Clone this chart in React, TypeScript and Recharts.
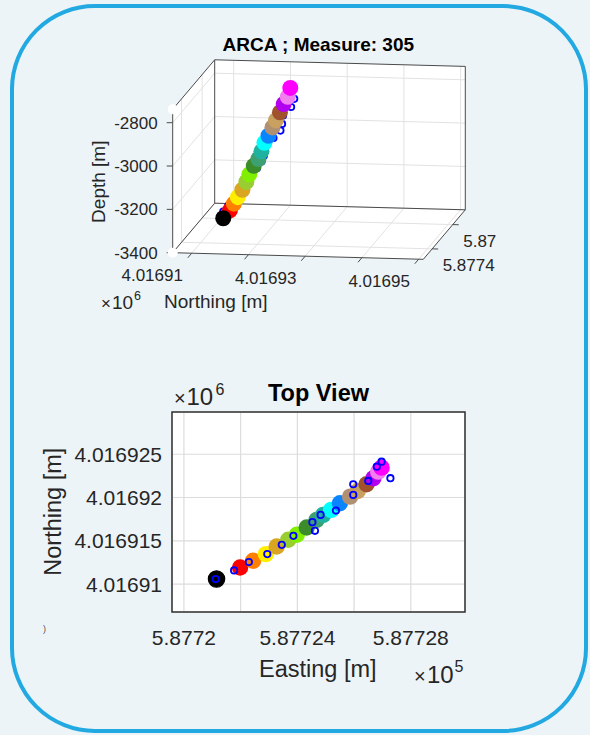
import React from 'react';
import {
  ComposedChart,
  ScatterChart,
  Scatter,
  Area,
  XAxis,
  YAxis,
  CartesianGrid,
  ReferenceLine,
  ReferenceArea,
} from 'recharts';

// Positions (UTM metres, depth in metres)
const pointColors = [
  '#000000', '#ff0000', '#ff8000', '#ffee00', '#daa520', '#9acd32',
  '#80f000', '#3c8c2c', '#3ca070', '#20b2a0', '#00ffff', '#0a84ff',
  '#b09070', '#c8a060', '#a0522d', '#b400f0', '#f080f0', '#ff00ff',
];
const eastings = [
  587721.15, 587721.98, 587722.44, 587722.89, 587723.27, 587723.68,
  587723.98, 587724.33, 587724.68, 587724.91, 587725.19, 587725.5,
  587725.86, 587726.13, 587726.44, 587726.68, 587726.85, 587726.97,
];
const northings = [
  4016910.58, 4016911.91, 4016912.69, 4016913.46, 4016914.34, 4016915.11,
  4016915.69, 4016916.53, 4016917.42, 4016917.99, 4016918.57, 4016919.34,
  4016920.1, 4016920.76, 4016921.53, 4016922.23, 4016922.99, 4016923.45,
];
const depths = [
  -3392, -3350, -3316, -3283, -3246, -3207, -3170, -3128, -3094,
  -3057, -3016, -2981, -2940, -2905, -2866, -2826, -2791, -2749,
];

// blue open circles
const blueEastings = [
  587721.12, 587721.77, 587722.29, 587722.94, 587723.45, 587723.86, 587724.53, 587724.62,
  587724.82, 587725.36, 587725.97, 587725.97, 587726.5, 587726.8, 587726.97, 587727.28,
];
const blueNorthings = [
  4016910.58, 4016911.57, 4016912.54, 4016913.46, 4016914.53, 4016915.57, 4016917.15, 4016916.15,
  4016917.99, 4016918.49, 4016920.3, 4016921.53, 4016921.91, 4016923.56, 4016924.14, 4016922.23,
];
const blueDepths = [
  -3361, -3331, -3301, -3268, -3242, -3203, -3137, -3172,
  -3104, -3074, -2988, -2953, -2919, -2838, -2799, -2876,
];

// top view ticks
const eastTicks = [587720, 587722, 587724, 587726, 587728];
const eastTickLabels = ['5.8772', '', '5.87724', '', '5.87728'];
const northTicks = [4016910, 4016915, 4016920, 4016925];
const northTickLabels = ['4.01691', '4.016915', '4.01692', '4.016925'];

// 3D view ticks
const depthTicks = [-3400, -3200, -3000, -2800];
const northTicks3d = [4016910, 4016920, 4016930, 4016940, 4016950];
const northTickLabels3d = ['4.01691', '', '4.01693', '', '4.01695'];
const eastTicks3d = [587740, 587720];
const eastTickLabels3d = ['5.8774', '5.87']; // cut off by the figure edge in the original

// axis limits
const TOP_E = [587719.58, 587729.91];
const TOP_N = [4016906.77, 4016929.88];
const BOX_N = [4016906.65, 4016950.82];
const BOX_E = [587748.6, 587707.8]; // front -> back
const BOX_D = [-3400, -2738.2];

// oblique view of the 3D box (pixels of the upper chart)
const VIEW = { ox: 172.7, oy: 252.7, ax: 250.6, ay: 6.6, bx: 42, by: -49.5, cz: -143.4 };

const INK = '#262626';
const FONT = '"Liberation Sans", Arial, Helvetica, sans-serif';

const fromNorm = (a: number, b: number, c: number) => ({
  x: VIEW.ox + a * VIEW.ax + b * VIEW.bx,
  y: VIEW.oy + a * VIEW.ay + b * VIEW.by + c * VIEW.cz,
});
const normN = (n: number) => (n - BOX_N[0]) / (BOX_N[1] - BOX_N[0]);
const normE = (e: number) => (BOX_E[0] - e) / (BOX_E[0] - BOX_E[1]);
const normD = (d: number) => (d - BOX_D[0]) / (BOX_D[1] - BOX_D[0]);
const project = (n: number, e: number, d: number) => fromNorm(normN(n), normE(e), normD(d));

type Pt = { x: number; y: number };
const seg = (p: number[], q: number[]): [Pt, Pt] => [
  fromNorm(p[0], p[1], p[2]),
  fromNorm(q[0], q[1], q[2]),
];

// box outline (MATLAB "back" box style)
const boxEdges = [
  [[0, 0, 0], [0, 0, 1]],
  [[0, 0, 1], [0, 1, 1]],
  [[0, 1, 1], [1, 1, 1]],
  [[1, 1, 1], [1, 1, 0]],
  [[0, 1, 1], [0, 1, 0]],
  [[0, 1, 0], [1, 1, 0]],
  [[0, 0, 0], [0, 1, 0]],
  [[0, 0, 0], [1, 0, 0]],
  [[1, 0, 0], [1, 1, 0]],
].map(([p, q]) => seg(p, q));

const gridSegs: [Pt, Pt][] = [];
northTicks3d.forEach((n) => {
  const a = normN(n);
  gridSegs.push(seg([a, 0, 0], [a, 1, 0]), seg([a, 1, 0], [a, 1, 1]));
});
eastTicks3d.forEach((e) => {
  const b = normE(e);
  gridSegs.push(seg([0, b, 0], [1, b, 0]), seg([0, b, 0], [0, b, 1]));
});
depthTicks.forEach((d) => {
  const c = normD(d);
  gridSegs.push(seg([0, 0, c], [0, 1, c]), seg([0, 1, c], [1, 1, c]));
});

const bLen = Math.hypot(VIEW.bx, VIEW.by);
const depthTickPts = depthTicks.map((d) => fromNorm(0, 0, normD(d)));
const northTickPts = northTicks3d.map((n) => fromNorm(normN(n), 0, 0));
const eastTickPts = eastTicks3d.map((e) => fromNorm(1, normE(e), 0));
const tickSegs: [Pt, Pt][] = [
  ...depthTickPts.map((p): [Pt, Pt] => [{ x: p.x - 6, y: p.y }, p]),
  ...northTickPts.map((p): [Pt, Pt] => [p, { x: p.x - (6 * VIEW.bx) / bLen, y: p.y - (6 * VIEW.by) / bLen }]),
  ...eastTickPts.map((p): [Pt, Pt] => [p, { x: p.x + 6, y: p.y + 0.16 }]),
];

// white face of the box
const topEdge = [fromNorm(0, 0, 1), fromNorm(0, 1, 1), fromNorm(1, 1, 1)];
const bottomEdge = [fromNorm(0, 0, 0), fromNorm(1, 0, 0), fromNorm(1, 1, 0)];
const along = (pts: Pt[], x: number) => {
  for (let i = 0; i < pts.length - 1; i++) {
    const p = pts[i];
    const q = pts[i + 1];
    if (x >= p.x && x <= q.x) return p.y + ((x - p.x) / (q.x - p.x)) * (q.y - p.y);
  }
  return x < pts[0].x ? pts[0].y : pts[pts.length - 1].y;
};
const silhouette = Array.from(new Set([...topEdge, ...bottomEdge].map((p) => p.x)))
  .sort((a, b) => a - b)
  .map((x) => ({ x, band: [along(topEdge, x), along(bottomEdge, x)] }));

const colored3d = northings.map((n, i) => ({ ...project(n, eastings[i], depths[i]), color: pointColors[i] }));
const blue3d = blueNorthings.map((n, i) => project(n, blueEastings[i], blueDepths[i]));

const coloredTop = eastings.map((e, i) => ({ e, n: northings[i], color: pointColors[i] }));
const blueTop = blueEastings.map((e, i) => ({ e, n: blueNorthings[i] }));

const disc = (r: number, edge?: string) => (p: any) => (
  <circle cx={p.cx} cy={p.cy} r={r} fill={p.payload.color} stroke={edge ?? 'none'} strokeWidth={edge ? 1.2 : 0} />
);
const ring = (p: any) => (
  <circle cx={p.cx} cy={p.cy} r={3.2} fill="none" stroke="#0000ff" strokeWidth={1.8} />
);

const pick = (ticks: number[], labels: string[]) => (v: number) => {
  const i = ticks.indexOf(v);
  return i >= 0 ? labels[i] : '';
};

function BoxView() {
  return (
    <ComposedChart width={590} height={330} data={silhouette} margin={{ top: 0, right: 0, bottom: 0, left: 0 }}>
      <XAxis type="number" dataKey="x" domain={[0, 590]} hide allowDataOverflow />
      <YAxis type="number" dataKey="y" domain={[0, 330]} reversed hide allowDataOverflow />
      <Area type="linear" dataKey="band" fill="#ffffff" fillOpacity={1} stroke="none" isAnimationActive={false} />
      {gridSegs.map((s, i) => (
        <ReferenceLine key={'g' + i} segment={s} stroke="#e2e2e2" strokeWidth={1} ifOverflow="visible" />
      ))}
      {boxEdges.map((s, i) => (
        <ReferenceLine key={'b' + i} segment={s} stroke="#4a4a4a" strokeWidth={1} ifOverflow="visible" />
      ))}
      {tickSegs.map((s, i) => (
        <ReferenceLine key={'t' + i} segment={s} stroke="#4a4a4a" strokeWidth={1} ifOverflow="visible" />
      ))}
      <Scatter data={blue3d} shape={ring} isAnimationActive={false} />
      <Scatter data={colored3d.slice(1)} shape={disc(8)} isAnimationActive={false} />
      <Scatter data={colored3d.slice(0, 1)} shape={disc(8)} isAnimationActive={false} />

      <text x={318.3} y={50.7} textAnchor="middle" fontSize={19} fontWeight="bold" fill="#000">
        ARCA ; Measure: 305
      </text>
      {depthTicks.map((d, i) => (
        <text key={'dl' + i} x={157.7} y={depthTickPts[i].y} dy="0.35em" textAnchor="end" fontSize={17} fill={INK}>
          {d}
        </text>
      ))}
      {northTickLabels3d.map((s, i) =>
        s ? (
          <text key={'nl' + i} x={northTickPts[i].x - 39.5} y={northTickPts[i].y + 28} textAnchor="middle" fontSize={17} fill={INK}>
            {s}
          </text>
        ) : null
      )}
      {eastTickLabels3d.map((s, i) => (
        <text key={'el' + i} x={eastTickPts[i].x + 10.5} y={eastTickPts[i].y + 22.5} fontSize={17} fill={INK}>
          {s}
        </text>
      ))}
      <text x={105.5} y={181.7} transform="rotate(-90 105.5 181.7)" textAnchor="middle" fontSize={19} fill={INK}>
        Depth [m]
      </text>
      <text x={215.8} y={308} textAnchor="middle" fontSize={19} fill={INK}>
        Northing [m]
      </text>
      <text x={101} y={309} fontSize={17} fill={INK}>×</text>
      <text x={112} y={309} fontSize={19} fill={INK}>10</text>
      <text x={134} y={299.5} fontSize={12.5} fill={INK}>6</text>
    </ComposedChart>
  );
}

function TopView() {
  return (
    <ScatterChart width={590} height={330} margin={{ top: 42, right: 125, bottom: 48, left: 0 }}>
      <CartesianGrid stroke="#dcdcdc" strokeWidth={1.2} fill="#ffffff" />
      <XAxis
        type="number"
        dataKey="e"
        domain={TOP_E}
        ticks={eastTicks}
        interval={0}
        tickFormatter={pick(eastTicks, eastTickLabels)}
        height={40}
        tickSize={0}
        tickMargin={18}
        axisLine={false}
        tickLine={false}
        tick={{ fontSize: 21, fill: INK }}
        allowDataOverflow
      />
      <YAxis
        type="number"
        dataKey="n"
        domain={TOP_N}
        ticks={northTicks}
        interval={0}
        tickFormatter={pick(northTicks, northTickLabels)}
        width={172}
        tickSize={0}
        tickMargin={10}
        axisLine={false}
        tickLine={false}
        tick={{ fontSize: 21, fill: INK }}
        allowDataOverflow
      />
      <ReferenceArea
        x1={TOP_E[0]}
        x2={TOP_E[1]}
        y1={TOP_N[0]}
        y2={TOP_N[1]}
        fill="none"
        fillOpacity={0}
        stroke="#303030"
        strokeWidth={1.5}
        ifOverflow="visible"
      />
      <Scatter data={coloredTop.slice(1)} shape={disc(8.2)} isAnimationActive={false} />
      <Scatter data={coloredTop.slice(0, 1)} shape={disc(8.2, '#000000')} isAnimationActive={false} />
      <Scatter data={blueTop} shape={ring} isAnimationActive={false} />

      <text x={318.5} y={30.7} textAnchor="middle" fontSize={23.5} fontWeight="bold" fill="#000">
        Top View
      </text>
      <text x={174} y={35} fontSize={20} fill={INK}>×</text>
      <text x={186.5} y={35} fontSize={24} fill={INK}>10</text>
      <text x={215.5} y={25} fontSize={16} fill={INK}>6</text>
      <text x={61.5} y={141.7} transform="rotate(-90 61.5 141.7)" textAnchor="middle" fontSize={23.5} fill={INK}>
        Northing [m]
      </text>
      <text x={317.8} y={307.3} textAnchor="middle" fontSize={23.5} fill={INK}>
        Easting [m]
      </text>
      <text x={414} y={313} fontSize={20} fill={INK}>×</text>
      <text x={427} y={313} fontSize={24} fill={INK}>10</text>
      <text x={454.5} y={301.7} fontSize={16} fill={INK}>5</text>
      <text x={43} y={262} fontSize={9} fill="#555">)</text>
    </ScatterChart>
  );
}

export default function App() {
  return (
    <div style={{ position: 'absolute', left: 0, top: 0, width: 590, height: 735, background: '#edf4f8', fontFamily: FONT }}>
      <div
        style={{
          position: 'absolute',
          left: 10,
          top: 4,
          width: 578,
          height: 729,
          boxSizing: 'border-box',
          border: '4.5px solid #22a9e1',
          borderRadius: 85,
        }}
      />
      <div style={{ position: 'absolute', left: 0, top: 0 }}>
        <BoxView />
      </div>
      <div style={{ position: 'absolute', left: 0, top: 370 }}>
        <TopView />
      </div>
    </div>
  );
}
